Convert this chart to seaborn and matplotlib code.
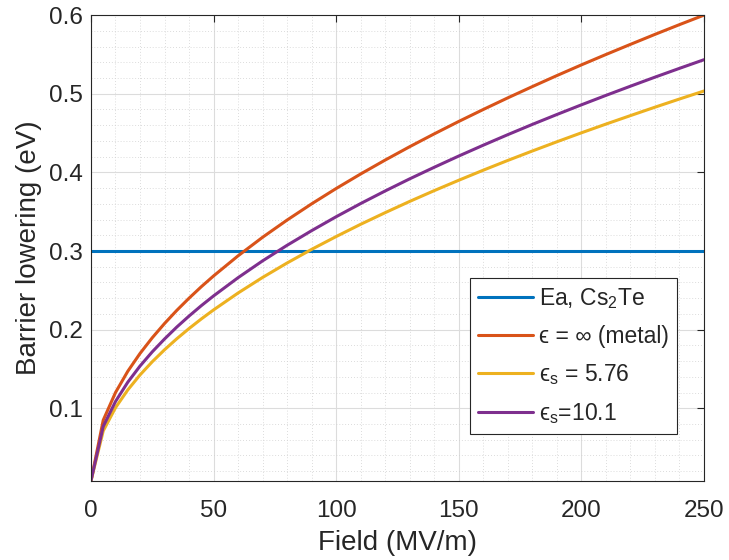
import numpy as np
import pandas as pd
import matplotlib
matplotlib.use("Agg")
import matplotlib.pyplot as plt
import seaborn as sns
from matplotlib.ticker import MultipleLocator

# Data (Field in MV/m, barrier lowering in eV)
field = [0, 5, 10, 15, 20, 25, 30, 35, 40, 45, 50, 60, 70, 80, 90, 100, 110, 120,
         130, 140, 150, 160, 170, 180, 190, 200, 210, 220, 230, 240, 250]
metal = [0.0076, 0.0849, 0.1200, 0.1470, 0.1697, 0.1897, 0.2078, 0.2245, 0.2400, 0.2546,
         0.2683, 0.2939, 0.3175, 0.3394, 0.3600, 0.3795, 0.3980, 0.4157, 0.4327, 0.4490,
         0.4648, 0.4800, 0.4948, 0.5091, 0.5231, 0.5367, 0.5499, 0.5628, 0.5755, 0.5879, 0.6000]
eps_576 = [0.0076, 0.0712, 0.1007, 0.1233, 0.1424, 0.1592, 0.1744, 0.1884, 0.2014, 0.2136,
           0.2251, 0.2466, 0.2664, 0.2848, 0.3021, 0.3184, 0.3340, 0.3488, 0.3631, 0.3768,
           0.3900, 0.4028, 0.4152, 0.4272, 0.4389, 0.4503, 0.4614, 0.4722, 0.4829, 0.4933, 0.5035]
eps_101 = [0.0076, 0.0769, 0.1086, 0.1331, 0.1537, 0.1718, 0.1881, 0.2033, 0.2173, 0.2305,
           0.2429, 0.2661, 0.2875, 0.3073, 0.3259, 0.3436, 0.3604, 0.3764, 0.3918, 0.4065,
           0.4208, 0.4346, 0.4480, 0.4610, 0.4736, 0.4859, 0.4979, 0.5096, 0.5211, 0.5323, 0.5433]
ea_field = [0, 250]
ea_value = [0.3, 0.3]

labels = ["Ea, Cs$_\\mathregular{2}$Te", "ϵ = ∞ (metal)",
          "ϵ$_\\mathregular{s}$ = 5.76", "ϵ$_\\mathregular{s}$=10.1"]
colors = ["#0072BD", "#D95319", "#EDB120", "#7E2F8E"]

sns.set_theme(style="white")
plt.rcParams['font.family'] = ['Liberation Sans', 'DejaVu Sans']
plt.rcParams['mathtext.fontset'] = 'custom'
plt.rcParams['mathtext.rm'] = 'Liberation Sans'

fig = plt.figure(figsize=(7.29, 5.6), dpi=100)
ax = fig.add_axes([0.1248, 0.1411, 0.8409, 0.8319])

series = [(ea_field, ea_value), (field, metal), (field, eps_576), (field, eps_101)]
for (xs, ys), lab, col in zip(series, labels, colors):
    df = pd.DataFrame({"x": xs, "y": ys})
    sns.lineplot(data=df, x="x", y="y", ax=ax, color=col, linewidth=2.2, label=lab)

ax.set_xlim(0, 250)
ax.set_ylim(0.0075, 0.6)
ax.set_xticks([0, 50, 100, 150, 200, 250])
ax.set_yticks([0.1, 0.2, 0.3, 0.4, 0.5, 0.6])
ax.set_yticklabels(["0.1", "0.2", "0.3", "0.4", "0.5", "0.6"])
ax.xaxis.set_minor_locator(MultipleLocator(10))
ax.yaxis.set_minor_locator(MultipleLocator(0.02))
ax.grid(which="major", color="#dcdcdc", linewidth=0.8, linestyle="-")
ax.grid(which="minor", color="#d0d0d0", linewidth=0.6, linestyle=(0, (1, 2.5)))
ax.set_axisbelow(True)

ax.tick_params(which="major", direction="in", length=5, width=0.8, colors="#262626",
               labelsize=17.5, top=True, right=True)
ax.tick_params(which="minor", length=0, top=True, right=True)
ax.tick_params(axis="x", pad=14)
ax.tick_params(axis="y", pad=6)
for s in ax.spines.values():
    s.set_color("#262626")
    s.set_linewidth(0.8)

ax.set_xlabel("Field (MV/m)", fontsize=20, color="#262626", labelpad=5.5)
ax.set_ylabel("Barrier lowering (eV)", fontsize=20, color="#262626", labelpad=5)

leg = ax.legend(loc="upper right", bbox_to_anchor=(0.956, 0.4356), fontsize=16.5,
                frameon=True, fancybox=False, edgecolor="#262626", framealpha=1,
                handlelength=2.4, handletextpad=0.26, borderpad=0.35, labelspacing=0.62,
                borderaxespad=0)
leg.get_frame().set_linewidth(0.8)

fig.savefig("out.png", dpi=100)
